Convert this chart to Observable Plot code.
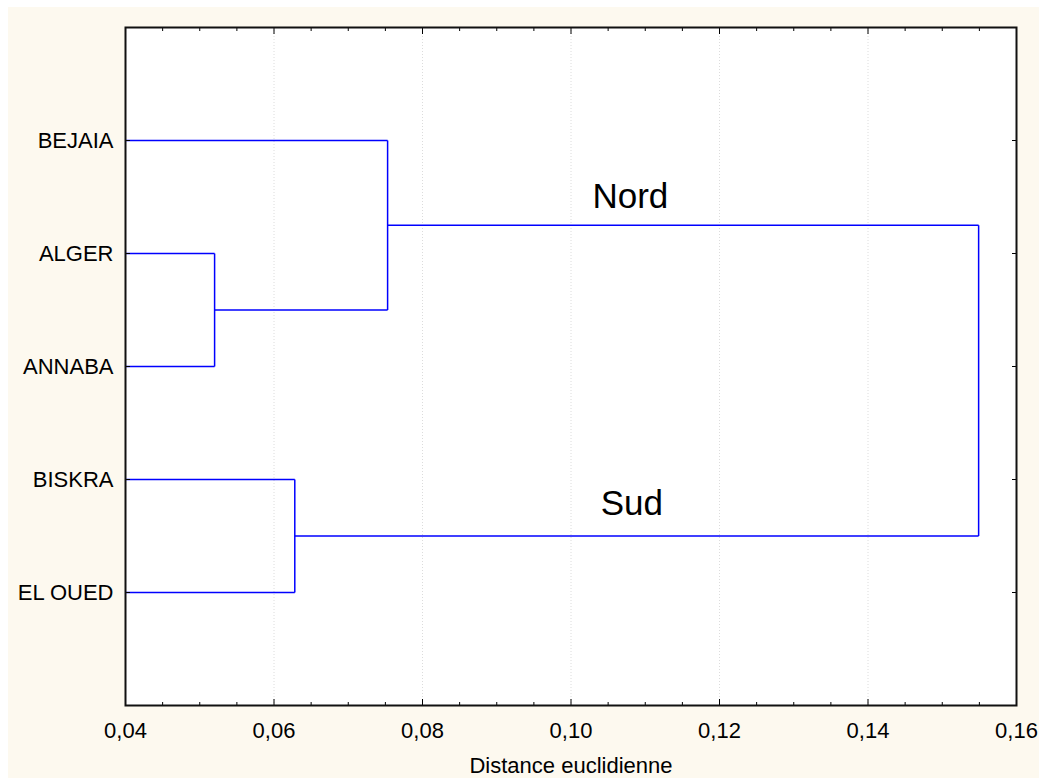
<!DOCTYPE html>
<html><head><meta charset="utf-8">
<script src="https://cdn.jsdelivr.net/npm/d3@7"></script>
<script src="https://cdn.jsdelivr.net/npm/@observablehq/plot@0.6"></script>
<style>
html,body{margin:0;padding:0;background:#fff;}
#chart{position:absolute;left:8px;top:7px;}
</style></head><body><div id="chart"></div>
<script>
// Leaves (top to bottom) and their row positions
const leaves = ["BEJAIA", "ALGER", "ANNABA", "BISKRA", "EL OUED"];
const leafRows = [1, 2, 3, 4, 5];
// Merges: name, left child, right child, linkage distance
const mergeNames = ["AA", "Nord", "Sud", "Root"];
const mergeLeft = ["ALGER", "BEJAIA", "BISKRA", "Nord"];
const mergeRight = ["ANNABA", "AA", "EL OUED", "Sud"];
const mergeHeight = [0.052, 0.0753, 0.0628, 0.1549];
// Axis ticks
const xMajorTicks = [0.04, 0.06, 0.08, 0.10, 0.12, 0.14, 0.16];
const xMinorTicks = [0.045, 0.05, 0.055, 0.065, 0.07, 0.075, 0.085, 0.09, 0.095, 0.105, 0.11, 0.115, 0.125, 0.13, 0.135, 0.145, 0.15, 0.155];
const xGrid = [0.06, 0.08, 0.10, 0.12, 0.14];
// Group annotations
const groupText = ["Nord", "Sud"];
const groupX = [0.108, 0.1082];
const groupY = [1.593, 4.31];

// Build node positions and dendrogram segments
const xMin = 0.04;
const nodes = new Map();
leaves.forEach((n, i) => nodes.set(n, {x: xMin, y: leafRows[i]}));
const segments = [];
mergeNames.forEach((n, i) => {
  const a = nodes.get(mergeLeft[i]), b = nodes.get(mergeRight[i]), h = mergeHeight[i];
  segments.push({x1: a.x, y1: a.y, x2: h, y2: a.y});
  segments.push({x1: b.x, y1: b.y, x2: h, y2: b.y});
  segments.push({x1: h, y1: a.y, x2: h, y2: b.y});
  nodes.set(n, {x: h, y: (a.y + b.y) / 2});
});
const annotations = groupText.map((t, i) => ({text: t, x: groupX[i], y: groupY[i]}));
const fmt = d => d.toFixed(2).replace(".", ",");
const none = () => "";
const FS = 22;

const chart = Plot.plot({
  width: 1031,
  height: 771,
  marginLeft: 117,
  marginRight: 23,
  marginTop: 20,
  marginBottom: 73,
  style: {background: "#fdf9ef", fontFamily: "'Liberation Sans', Arial, sans-serif", fontSize: FS + "px", color: "black"},
  x: {domain: [0.04, 0.16]},
  y: {domain: [0, 6], reverse: true},
  marks: [
    Plot.frame({fill: "white", stroke: null}),
    Plot.gridX(xGrid, {stroke: "#dcdcdc", strokeOpacity: 1, strokeDasharray: "1,2"}),
    Plot.link(segments, {x1: "x1", y1: "y1", x2: "x2", y2: "y2", stroke: "#0000ff", strokeWidth: 1.5}),
    Plot.text(annotations, {x: "x", y: "y", text: "text", fontSize: 35, lineAnchor: "bottom", fill: "black"}),
    // inward tick marks
    Plot.axisX(xMajorTicks, {anchor: "bottom", tickSize: -6, tickFormat: none, label: null}),
    Plot.axisX(xMinorTicks, {anchor: "bottom", tickSize: -3, tickFormat: none, label: null}),
    Plot.axisX(xMajorTicks, {anchor: "top", tickSize: -6, tickFormat: none, label: null}),
    Plot.axisX(xMinorTicks, {anchor: "top", tickSize: -3, tickFormat: none, label: null}),
    Plot.axisY(leafRows, {anchor: "left", tickSize: -5, tickFormat: none, label: null}),
    Plot.axisY(leafRows, {anchor: "right", tickSize: -5, tickFormat: none, label: null}),
    // labels
    Plot.axisX(xMajorTicks, {anchor: "bottom", tickSize: 0, tickPadding: 17, fontSize: FS, tickFormat: fmt, label: "Distance euclidienne", labelAnchor: "center", labelArrow: "none", labelOffset: 67}),
    Plot.axisY(leafRows, {anchor: "left", tickSize: 0, tickPadding: 12, fontSize: FS, tickFormat: d => leaves[d - 1], label: null}),
    Plot.frame({stroke: "#111", strokeWidth: 2})
  ]
});
document.getElementById("chart").appendChild(chart);
</script></body></html>
